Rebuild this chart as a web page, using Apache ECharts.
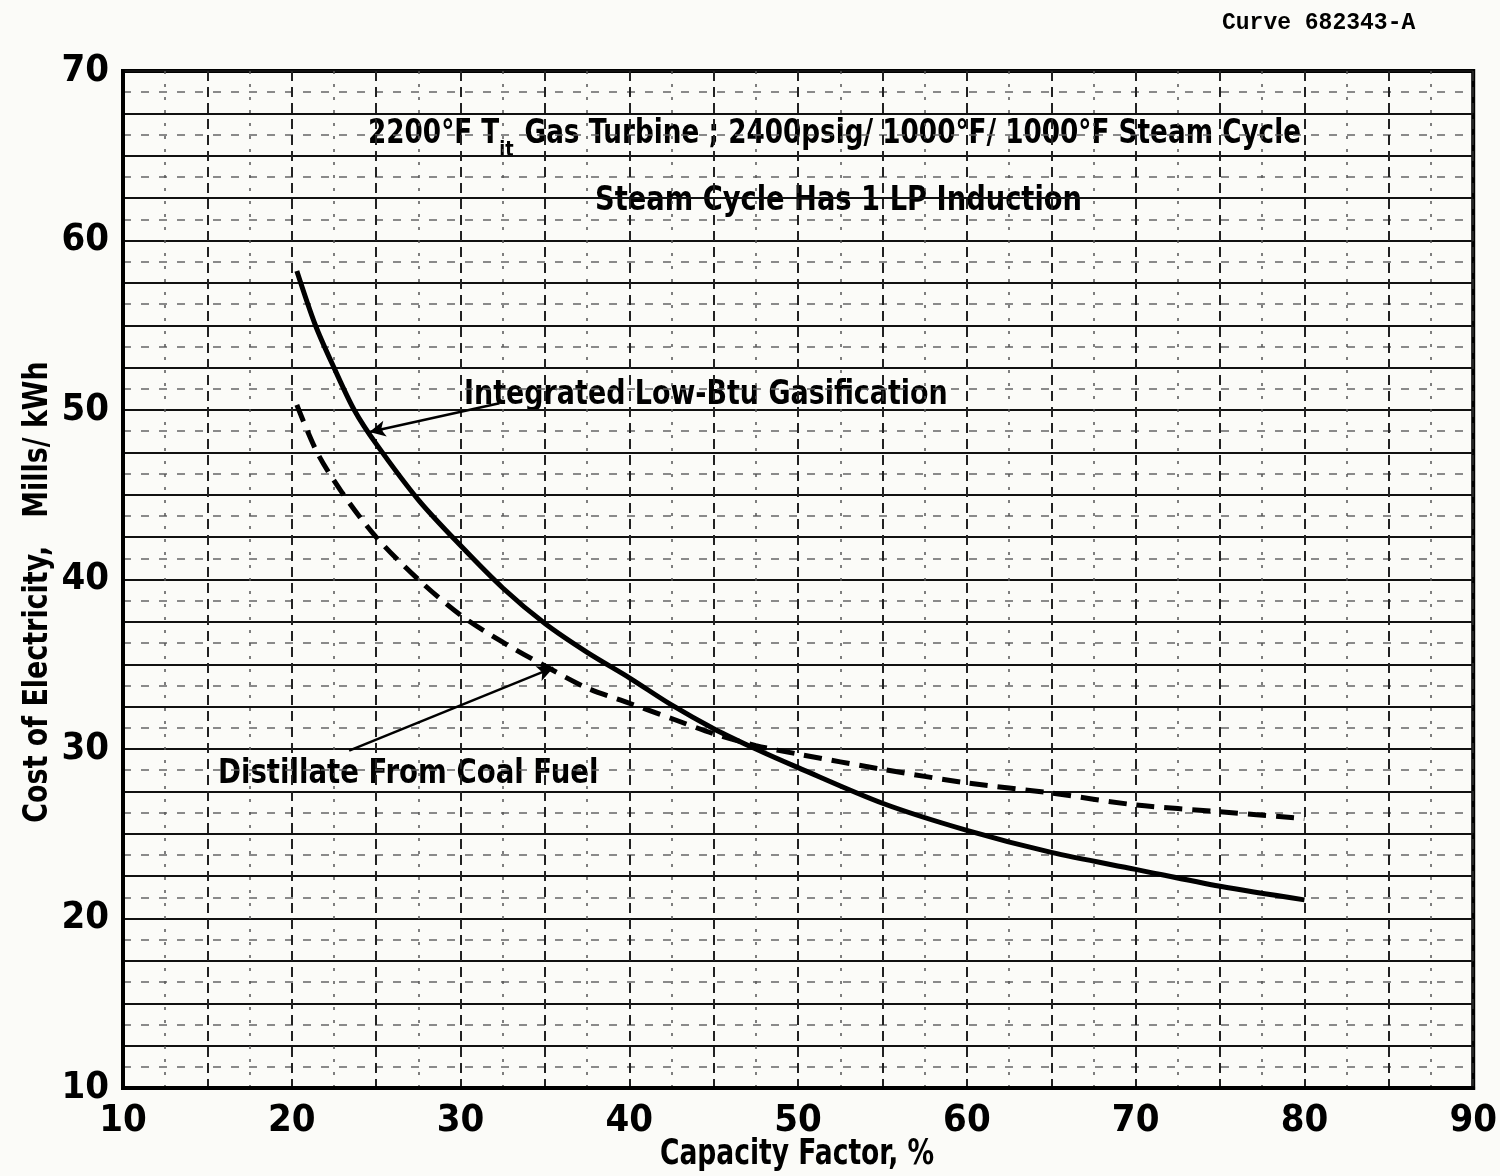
<!DOCTYPE html>
<html><head><meta charset="utf-8">
<script src="https://cdn.jsdelivr.net/npm/echarts@6/dist/echarts.min.js"></script>
<style>html,body{margin:0;padding:0;background:#fbfbf8;}#c{width:1500px;height:1176px;}</style>
</head><body><div id="c"></div>
<script>
// Data
const gasificationX = [20.3, 21.4, 22.5, 23.7, 25, 27.5, 30, 32.5, 35, 37.5, 40, 42.5, 45, 47.5, 50, 55, 60, 65, 70, 75, 80];
const gasificationY = [58.2, 55.0, 52.5, 50.0, 48.0, 44.7, 42.0, 39.5, 37.4, 35.7, 34.2, 32.6, 31.2, 30.0, 28.9, 26.8, 25.2, 23.9, 22.9, 21.9, 21.1];
const distillateX = [20.3, 21.5, 23, 25, 27.5, 30, 32.5, 35, 37.5, 40, 42.5, 45, 47.5, 50, 55, 60, 65, 70, 75, 80];
const distillateY = [50.3, 47.5, 45.1, 42.5, 40.0, 37.9, 36.3, 34.9, 33.6, 32.7, 31.8, 30.9, 30.2, 29.7, 28.8, 28.0, 27.4, 26.7, 26.3, 25.9];
const xTicks = [10, 20, 30, 40, 50, 60, 70, 80, 90];
const yTicks = [10, 20, 30, 40, 50, 60, 70];
const arrowGasification = [[32.3, 50.4], [24.6, 48.7]];
const arrowDistillate = [[23.4, 29.9], [35.5, 34.8]];

const FONT = "'DejaVu Sans Condensed','Liberation Sans Narrow',sans-serif";
const zip = (xs, ys) => xs.map((x, i) => [x, ys[i]]);

const chart = echarts.init(document.getElementById('c'), null, {renderer: 'canvas'});
chart.setOption({
  backgroundColor: '#fbfbf8',
  animation: false,
  grid: {left: 123, top: 71, right: 20, bottom: 88, show: true, borderColor: '#000', borderWidth: 4, backgroundColor: 'transparent'},
  xAxis: {
    type: 'value', min: 10, max: 90, interval: 5,
    axisLine: {show: true, lineStyle: {color: '#000', width: 4}},
    axisTick: {show: false},
    axisLabel: {
      formatter: v => xTicks.includes(v) ? String(v) : '',
      fontFamily: FONT, fontWeight: 'bold', fontSize: 38, color: '#000', margin: 14
    },
    splitLine: {show: true, lineStyle: {color: '#222', width: 2, type: [10, 6]}},
    minorTick: {show: false, splitNumber: 2},
    minorSplitLine: {show: true, lineStyle: {color: '#555', width: 1.5, type: [3, 10]}}
  },
  yAxis: {
    type: 'value', min: 10, max: 70, interval: 2.5,
    axisLine: {show: true, lineStyle: {color: '#000', width: 4}},
    axisTick: {show: false},
    axisLabel: {
      formatter: v => yTicks.includes(v) ? String(v) : '',
      fontFamily: FONT, fontWeight: 'bold', fontSize: 38, color: '#000', margin: 14
    },
    splitLine: {show: true, lineStyle: {color: '#111', width: 2, type: 'solid'}},
    minorTick: {show: false, splitNumber: 2},
    minorSplitLine: {show: true, lineStyle: {color: '#666', width: 1.5, type: [8, 10]}}
  },
  series: [
    {
      name: 'Integrated Low-Btu Gasification', type: 'line', smooth: 0.3, symbol: 'none',
      data: zip(gasificationX, gasificationY),
      lineStyle: {color: '#000', width: 5},
      markLine: {
        silent: true, symbol: ['none', 'arrow'], symbolSize: [12, 16],
        lineStyle: {color: '#000', width: 2.5, type: 'solid'}, label: {show: false},
        data: [
          [{coord: arrowGasification[0]}, {coord: arrowGasification[1]}],
          [{coord: arrowDistillate[0]}, {coord: arrowDistillate[1]}]
        ]
      }
    },
    {
      name: 'Distillate From Coal Fuel', type: 'line', smooth: 0.3, symbol: 'none',
      data: zip(distillateX, distillateY),
      lineStyle: {color: '#000', width: 5, type: [18, 10]}
    }
  ],
  graphic: [
    {type: 'text', x: 1222, y: 12, style: {text: 'Curve 682343-A', font: "bold 23px 'Liberation Mono','DejaVu Sans Mono',monospace", fill: '#000'}},
    {type: 'text', x: 368, y: 118, scaleX: 0.885, style: {
      text: '{a|2200°F T}{s|it}{a| Gas Turbine ; 2400psig/ 1000°F/ 1000°F Steam Cycle}',
      rich: {
        a: {fontFamily: FONT, fontWeight: 'bold', fontSize: 33, fill: '#000', verticalAlign: 'top', lineHeight: 38},
        s: {fontFamily: FONT, fontWeight: 'bold', fontSize: 22, fill: '#000', padding: [26, 2, 0, 0], lineHeight: 38}
      }
    }},
    {type: 'text', x: 595, y: 185, scaleX: 0.92, style: {text: 'Steam Cycle Has 1 LP Induction', font: "bold 33px " + FONT, fill: '#000'}},
    {type: 'text', x: 464, y: 378, scaleX: 0.88, style: {text: 'Integrated Low-Btu Gasification', font: "bold 34px " + FONT, fill: '#000'}},
    {type: 'text', x: 218, y: 758, scaleX: 0.93, style: {text: 'Distillate From Coal Fuel', font: "bold 33px " + FONT, fill: '#000'}},
    {type: 'text', x: 797, y: 1155, scaleX: 0.82, style: {text: 'Capacity Factor, %', font: "bold 36px " + FONT, fill: '#000', textAlign: 'center', textVerticalAlign: 'middle'}},
    {type: 'text', x: 38, y: 592, rotation: Math.PI / 2, scaleX: 0.88, style: {text: 'Cost of Electricity,   Mills/ kWh', font: "bold 34px " + FONT, fill: '#000', textAlign: 'center', textVerticalAlign: 'middle'}}
  ]
});
</script></body></html>
